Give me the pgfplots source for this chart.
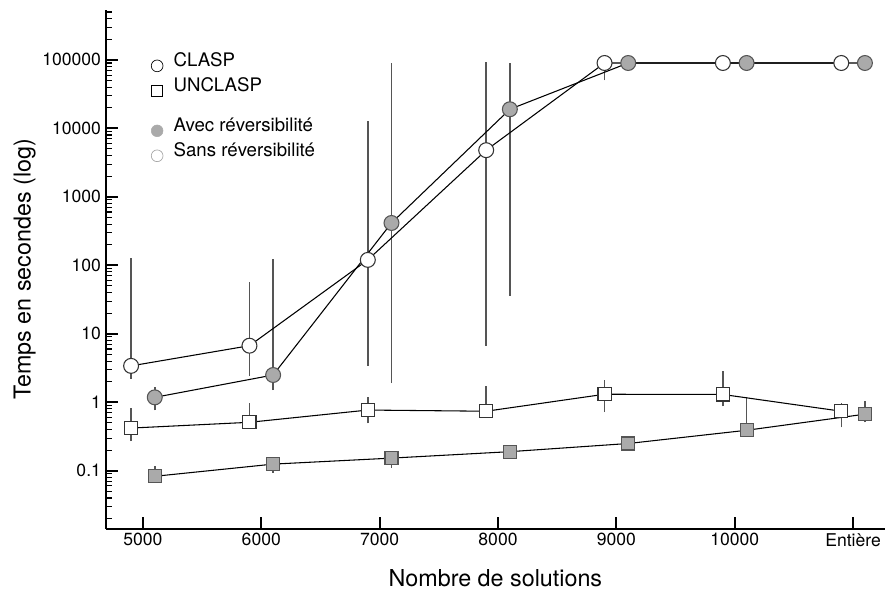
\documentclass[border=0pt]{standalone}
\usepackage{fontspec}
\setmainfont{TeX Gyre Heros}
\usepackage{pgfplots}
\pgfplotsset{compat=1.18}
\definecolor{mgray}{HTML}{AAAAAA}
\definecolor{egray}{HTML}{555555}
\tikzset{lgtext/.style={font=\fontsize{14pt}{16pt}\selectfont, text height=10pt, text depth=8.75pt, inner ysep=0pt}}
\begin{document}
\begin{tikzpicture}
\begin{axis}[
  scale only axis, width=585pt, height=389.25pt,
  ymode=log, xmin=4685, xmax=11270, ymin=0.0143, ymax=535000,
  axis lines=left, axis line style={-, line width=1.4pt},
  tick align=inside,
  major tick length=9pt, minor tick length=5pt,
  every major tick/.style={line width=1.4pt, black},
  every minor tick/.style={line width=0.8pt, black},
  xtick={5000,6000,7000,8000,9000,10000,11000},
  xticklabels={5000,6000,7000,8000,9000,10000,Entière},
  scaled x ticks=false,
  minor x tick num=0,
  log ticks with fixed point,
  /pgf/number format/1000 sep={},
  /pgf/number format/assume math mode=true,
  tick label style={font=\fontsize{13.2pt}{15pt}\selectfont},
  xlabel={Nombre de solutions},
  ylabel={Temps en secondes (log)},
  label style={font=\fontsize{17.5pt}{20pt}\selectfont},
  xlabel style={at={(axis description cs:0.5,-0.096)}, anchor=center},
  ylabel style={at={(axis description cs:-0.104,0.5)}, anchor=center, rotate=0},
  clip=false,
  legend style={draw=none, fill=none, at={(axis description cs:0.046,0.922)}, anchor=north west,
    font=\fontsize{14pt}{16pt}\selectfont, row sep=0pt, column sep=6pt},
  legend cell align=left,
]
% error bars
\addplot[forget plot, egray, line width=1.1pt, unbounded coords=jump] coordinates {
 (4900,2.2)(4900,129) (4900,nan)
 (5900,2.4)(5900,58) (5900,nan)
 (6900,3.4)(6900,12600) (6900,nan)
 (7900,6.7)(7900,92000) (7900,nan)
 (8900,50000)(8900,90000) (8900,nan)
 (5100,0.76)(5100,1.65) (5100,nan)
 (6100,1.5)(6100,125) (6100,nan)
 (7100,1.9)(7100,91000) (7100,nan)
 (8100,36)(8100,91000) (8100,nan)
 (4900,0.27)(4900,0.82) (4900,nan)
 (5900,0.51)(5900,0.97) (5900,nan)
 (6900,0.49)(6900,1.18) (6900,nan)
 (7900,0.74)(7900,1.7) (7900,nan)
 (8900,0.72)(8900,2.1) (8900,nan)
 (9900,0.87)(9900,2.9) (9900,nan)
 (10900,0.43)(10900,0.97) (10900,nan)
 (5100,0.083)(5100,0.117) (5100,nan)
 (6100,0.093)(6100,0.125) (6100,nan)
 (7100,0.11)(7100,0.153) (7100,nan)
 (10100,0.39)(10100,1.18) (10100,nan)
 (11100,0.51)(11100,1.03)
};
% UNCLASP avec
\addplot[forget plot, black, line width=0.8pt, mark=square*, mark size=4.9pt,
  mark options={fill=mgray, draw=egray, line width=0.8pt}] coordinates {
 (5100,0.083)(6100,0.125)(7100,0.153)(8100,0.19)(9100,0.25)(10100,0.39)(11100,0.67)};
% UNCLASP sans
\addplot[forget plot, black, line width=0.8pt, mark=square*, mark size=4.9pt,
  mark options={fill=white, draw=black!80, line width=0.8pt}] coordinates {
 (4900,0.42)(5900,0.51)(6900,0.77)(7900,0.74)(8900,1.31)(9900,1.3)(10900,0.74)};
% CLASP avec
\addplot[forget plot, black, line width=0.8pt, mark=*, mark size=5.6pt,
  mark options={fill=mgray, draw=egray, line width=0.8pt}] coordinates {
 (5100,1.18)(6100,2.5)(7100,415)(8100,19000)(9100,90000)(10100,90000)(11100,90000)};
% CLASP sans
\addplot[forget plot, black, line width=0.8pt, mark=*, mark size=5.6pt,
  mark options={fill=white, draw=black!80, line width=0.8pt}] coordinates {
 (4900,3.4)(5900,6.7)(6900,120)(7900,4800)(8900,90000)(9900,90000)(10900,90000)};
% legend
\addlegendimage{only marks, mark=*, mark size=4.4pt, mark options={fill=white, draw=black, line width=0.5pt}}
\addlegendentry[lgtext]{CLASP}
\addlegendimage{only marks, mark=square*, mark size=4.1pt, mark options={fill=white, draw=black, line width=0.5pt}}
\addlegendentry[lgtext]{UNCLASP}
\addlegendimage{empty legend}
\addlegendentry[lgtext, text height=0pt, text depth=11.25pt]{}
\addlegendimage{only marks, mark=*, mark size=4.4pt, mark options={fill=mgray, draw=mgray}}
\addlegendentry[lgtext]{Avec réversibilité}
\addlegendimage{only marks, mark=*, mark size=4.4pt, mark options={fill=white, draw=black!35, line width=0.5pt}}
\addlegendentry[lgtext]{Sans réversibilité}
\end{axis}
\path (current axis.south west) ++(-79.3pt,-52.5pt) (current axis.north east) ++(0pt,7.5pt);
\end{tikzpicture}
\end{document}
